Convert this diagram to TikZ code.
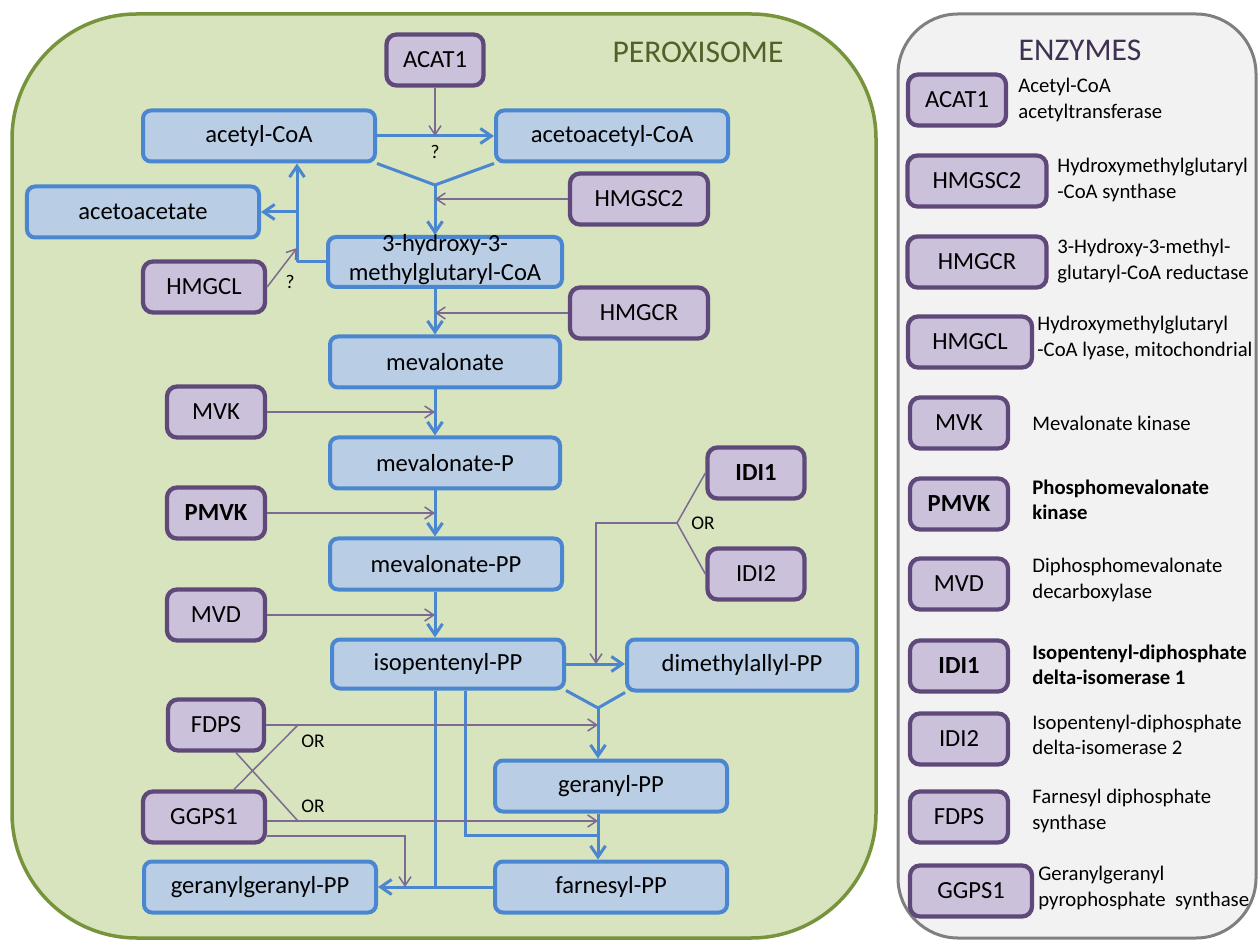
\documentclass[tikz,border=0pt]{standalone}
\usepackage{fontspec}
\setmainfont{Carlito}
\usetikzlibrary{arrows.meta}

\definecolor{perofill}{HTML}{D7E4BD}
\definecolor{peroedge}{HTML}{77933C}
\definecolor{perotext}{HTML}{4F6228}
\definecolor{legfill}{HTML}{F2F2F2}
\definecolor{legedge}{HTML}{7F7F7F}
\definecolor{metfill}{HTML}{B9CDE5}
\definecolor{metedge}{HTML}{4A87D0}
\definecolor{enzfill}{HTML}{CCC1DA}
\definecolor{enzedge}{HTML}{5F497A}
\definecolor{enzline}{HTML}{7D6A92}
\definecolor{enztext}{HTML}{3F3151}

\begin{document}
\begin{tikzpicture}[x=0.2mm,y=-0.2mm,
  every node/.style={font=\fontsize{14}{16.8}\selectfont},
  metab/.style={draw=metedge,fill=metfill,line width=0.8mm,rounded corners=1.6mm,
    minimum width=46.4mm,minimum height=10.2mm,inner sep=0pt},
  enz/.style={draw=enzedge,fill=enzfill,line width=0.85mm,rounded corners=2mm,
    minimum height=10.2mm,inner sep=0pt},
  desc/.style={anchor=west,align=left,inner sep=0pt,font=\fontsize{11.8}{14.4}\selectfont},
  flow/.style={draw=metedge,line width=0.6mm,-{Straight Barb[length=2.2mm,width=3mm]}},
  flowline/.style={draw=metedge,line width=0.6mm},
  cat/.style={draw=enzline,line width=0.3mm,-{Straight Barb[length=1.8mm,width=2.4mm]}},
  catline/.style={draw=enzline,line width=0.3mm},
  small/.style={font=\fontsize{11}{13}\selectfont,inner sep=0pt}]
  \useasboundingbox (0,0) rectangle (1259,940);

  % compartments
  \draw[fill=perofill,draw=peroedge,line width=0.7mm,rounded corners=25mm] (12,14) rectangle (876,938);
  \node[text=perotext,font=\fontsize{18}{20}\selectfont] (pero) at (698,52) {PEROXISOME};
  \draw[fill=legfill,draw=legedge,line width=0.6mm,rounded corners=12mm] (898,14) rectangle (1256,938);
  \node[text=enztext,font=\fontsize{18}{20}\selectfont] (enzt) at (1080,50) {ENZYMES};

  % metabolites
  \node[metab] (acetyl) at (259,136) {acetyl-CoA};
  \node[metab] (acac) at (612,136) {acetoacetyl-CoA};
  \node[metab] (acetoacetate) at (143,212) {acetoacetate};
  \node[metab,minimum width=46.8mm,minimum height=10mm] (hmgcoa) at (445,262)
    {\smash{\raisebox{-0.9mm}{\begin{tabular}{@{}c@{}}3-hydroxy-3-\\methylglutaryl-CoA\end{tabular}}}};
  \node[metab,minimum width=46mm] (mev) at (445,362) {mevalonate};
  \node[metab,minimum width=46mm] (mevp) at (445,463) {mevalonate-P};
  \node[metab] (mevpp) at (446,564) {mevalonate-PP};
  \node[metab,minimum height=9.8mm] (ipp) at (448,664) {isopentenyl-PP};
  \node[metab,minimum width=46mm] (dmapp) at (742,665) {dimethylallyl-PP};
  \node[metab] (gpp) at (611,786) {geranyl-PP};
  \node[metab] (fpp) at (611,887) {farnesyl-PP};
  \node[metab] (ggpp) at (260,887) {geranylgeranyl-PP};

  % enzymes in the pathway
  \node[enz,minimum width=19.4mm] (acat) at (435,60) {ACAT1};
  \node[enz,minimum width=27.6mm] (hmgsc) at (639,199) {HMGSC2};
  \node[enz,minimum width=24.4mm] (hmgcl) at (204,287) {HMGCL};
  \node[enz,minimum width=27.6mm] (hmgcr) at (639,313) {HMGCR};
  \node[enz,minimum width=19.6mm] (mvk) at (216,412) {MVK};
  \node[enz,minimum width=19.6mm,font=\fontsize{14}{16.8}\selectfont\bfseries] (pmvk) at (216,513) {PMVK};
  \node[enz,minimum width=19.6mm] (mvd) at (216,615) {MVD};
  \node[enz,minimum width=19.4mm,font=\fontsize{14}{16.8}\selectfont\bfseries] (idi1) at (756,473) {IDI1};
  \node[enz,minimum width=19.4mm] (idi2) at (756,574) {IDI2};
  \node[enz,minimum width=19.2mm] (fdps) at (216,725) {FDPS};
  \node[enz,minimum width=24.4mm] (ggps) at (204,817) {GGPS1};

  % branch points
  \coordinate (v1) at (435,185);
  \coordinate (split) at (297,262);
  \coordinate (h1) at (297,248);
  \coordinate (or1) at (677,523);
  \coordinate (d1) at (596,523);
  \coordinate (v2) at (598,708);
  \coordinate (x1) at (298,725);
  \coordinate (x2) at (298,821);
  \coordinate (f1) at (465,835);
  \coordinate (g2) at (405,836);

  % main flow
  \draw[flow] (acetyl.east) -- (acac.west);
  \draw[flowline] (acetyl.south east) -- (v1) -- (acac.south west);
  \draw[flow] (v1) -- (v1 |- hmgcoa.north);
  \draw[flowline] (hmgcoa.west) -- (split);
  \draw[flow] (split) -- (split |- acetyl.south);
  \draw[flow] (split |- acetoacetate.east) -- (acetoacetate.east);
  \draw[flow] (v1 |- hmgcoa.south) -- (v1 |- mev.north);
  \draw[flow] (v1 |- mev.south) -- (v1 |- mevp.north);
  \draw[flow] (v1 |- mevp.south) -- (v1 |- mevpp.north);
  \draw[flow] (v1 |- mevpp.south) -- (v1 |- ipp.north);
  \draw[flow] (ipp.east) -- (ipp.east -| dmapp.west);
  \draw[flowline] (ipp.south east) -- (v2) -- (dmapp.south west);
  \draw[flow] (v2) -- (v2 |- gpp.north);
  \draw[flow] (v2 |- gpp.south) -- (v2 |- fpp.north);
  \draw[flowline] (v1 |- ipp.south) -- (v1 |- fpp.west);
  \draw[flowline] (f1 |- ipp.south) -- (f1) -- (f1 -| v2);
  \draw[flow] (fpp.west) -- (ggpp.east);

  % enzyme links
  \draw[cat] (acat.south) -- (acat.south |- acetyl.east);
  \node[small] (qa) at (435,152) {?};
  \draw[cat] (hmgsc.west) -- (hmgsc.west -| v1);
  \draw[cat] (hmgcr.west) -- (hmgcr.west -| v1);
  \draw[cat] (hmgcl.east) -- (h1);
  \node[small] (qb) at (290,282) {?};
  \draw[cat] (mvk.east) -- (mvk.east -| v1);
  \draw[cat] (pmvk.east) -- (pmvk.east -| v1);
  \draw[cat] (mvd.east) -- (mvd.east -| v1);
  \draw[catline] (idi1.west) -- (or1) -- (idi2.west);
  \draw[cat] (or1) -- (d1) -- (d1 |- ipp.east);
  \node[small] (ora) at (703,523) {OR};
  \draw[cat] (fdps.east) -- (fdps.east -| v2);
  \draw[cat] (ggps.east |- x2) -- (x2 -| v2);
  \draw[catline] ([xshift=6mm]ggps.north) -- (x1);
  \draw[catline] ([xshift=4mm]fdps.south) -- (x2);
  \node[small] (orb) at (313,741) {OR};
  \node[small] (orc) at (313,806) {OR};
  \draw[cat] (ggps.east |- g2) -- (g2) -- (g2 |- ggpp.east);

  % legend
  \node[enz,minimum width=19.6mm] (lacat) at (957,100) {ACAT1};
  \node[desc] (dacat) at (1018,100) {Acetyl-CoA\\acetyltransferase};
  \node[enz,minimum width=27.8mm] (lhmgsc) at (977,181) {HMGSC2};
  \node[desc] (dhmgsc) at (1057,180) {Hydroxymethylglutaryl\\-CoA synthase};
  \node[enz,minimum width=27.8mm] (lhmgcr) at (977,262) {HMGCR};
  \node[desc] (dhmgcr) at (1057,261) {3-Hydroxy-3-methyl-\\glutaryl-CoA reductase};
  \node[enz,minimum width=24.8mm] (lhmgcl) at (970,342) {HMGCL};
  \node[desc] (dhmgcl) at (1037,338) {Hydroxymethylglutaryl\\-CoA lyase, mitochondrial};
  \node[enz,minimum width=19.6mm] (lmvk) at (959,423) {MVK};
  \node[desc] (dmvk) at (1032,423) {Mevalonate kinase};
  \node[enz,minimum width=19.6mm,font=\fontsize{14}{16.8}\selectfont\bfseries] (lpmvk) at (959,504) {PMVK};
  \node[desc,font=\fontsize{11.8}{14.4}\selectfont\bfseries] (dpmvk) at (1032,500) {Phosphomevalonate\\kinase};
  \node[enz,minimum width=19.6mm] (lmvd) at (959,584) {MVD};
  \node[desc] (dmvd) at (1032,580) {Diphosphomevalonate\\decarboxylase};
  \node[enz,minimum width=19.6mm,font=\fontsize{14}{16.8}\selectfont\bfseries] (lidi1) at (959,666) {IDI1};
  \node[desc,font=\fontsize{11.8}{14.4}\selectfont\bfseries] (didi1) at (1032,665) {Isopentenyl-diphosphate\\delta-isomerase 1};
  \node[enz,minimum width=19.6mm] (lidi2) at (959,739) {IDI2};
  \node[desc] (didi2) at (1032,735) {Isopentenyl-diphosphate\\delta-isomerase 2};
  \node[enz,minimum width=19.6mm] (lfdps) at (959,817) {FDPS};
  \node[desc] (dfdps) at (1032,811) {Farnesyl diphosphate\\synthase};
  \node[enz,minimum width=24.4mm] (lggps) at (971,891) {GGPS1};
  \node[desc] (dggps) at (1038,888) {Geranylgeranyl\\pyrophosphate\ \ synthase};
\end{tikzpicture}
\end{document}
